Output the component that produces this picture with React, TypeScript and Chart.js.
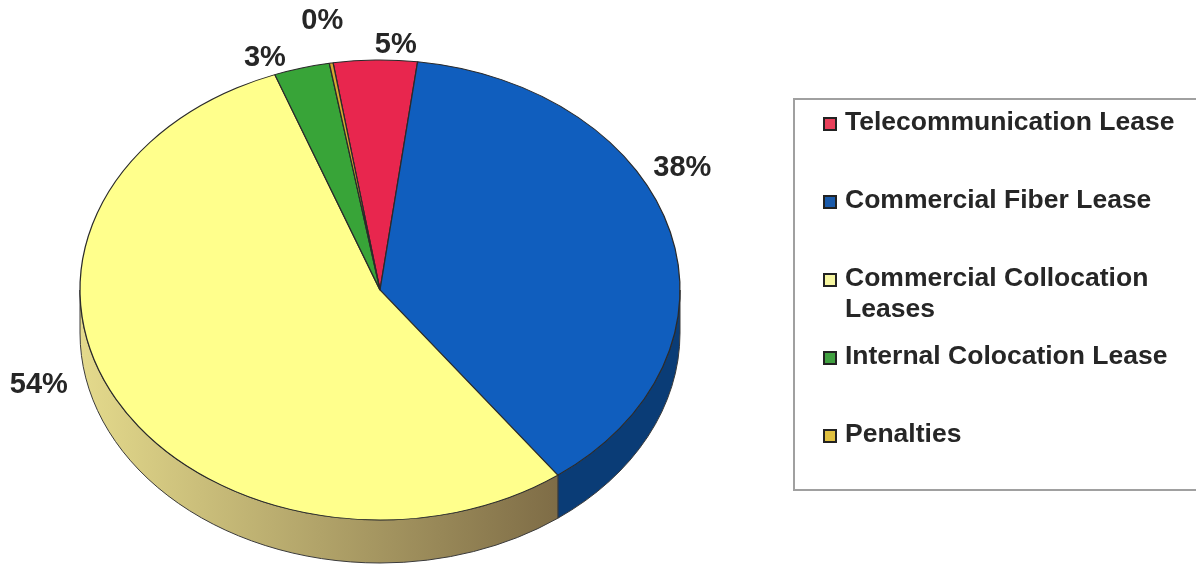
import React, { useEffect, useRef } from 'react';
import { Chart, registerables } from 'chart.js';

Chart.register(...registerables);

// ---- data ----
const categories = [
  'Telecommunication Lease',
  'Commercial Fiber Lease',
  'Commercial Collocation Leases',
  'Internal Colocation Lease',
  'Penalties',
];
const legendLines = [
  ['Telecommunication Lease'],
  ['Commercial Fiber Lease'],
  ['Commercial Collocation', 'Leases'],
  ['Internal Colocation Lease'],
  ['Penalties'],
];
const values = [4.5, 37.9, 54.4, 3.0, 0.2];
const percentLabels = ['5%', '38%', '54%', '3%', '0%'];

// ---- styles ----
const topColors = ['#E8264E', '#105EBE', '#FFFF8C', '#38A438', '#D8A830'];
const sideColors = [
  ['#A81C38', '#A81C38'],
  ['#1458A8', '#0A3C76'],
  ['#E4DA8C', '#7E6C46'],
  ['#287828', '#287828'],
  ['#A07820', '#A07820'],
];
const legendColors = ['#E8405A', '#1A5AAA', '#F6F6A0', '#40A040', '#E0C040'];
const labelNudge = [
  [21, 15],
  [-17, -57],
  [-51, -29],
  [-29, 19],
  [-4, -12],
];
const RX = 300;
const RY = 230;
const DEPTH = 43;

const threeD = {
  id: 'threeD',
  beforeDatasetsDraw(chart: any) {
    const ctx = chart.ctx;
    const meta = chart.getDatasetMeta(0);
    const first = meta.data[0];
    if (!first) return;
    const cx = first.x;
    const cy = first.y;
    const r = first.outerRadius;
    // side walls (front half only)
    meta.data.forEach((arc: any, i: number) => {
      const s = Math.max(arc.startAngle, 0);
      const e = Math.min(arc.endAngle, Math.PI);
      if (e <= s) return;
      const g = ctx.createLinearGradient(cx - RX, 0, cx + RX * 0.6, 0);
      g.addColorStop(0, sideColors[i][0]);
      g.addColorStop(1, sideColors[i][1]);
      ctx.save();
      ctx.beginPath();
      ctx.ellipse(cx, cy, RX, RY, 0, s, e, false);
      ctx.ellipse(cx, cy + DEPTH, RX, RY, 0, e, s, true);
      ctx.closePath();
      ctx.fillStyle = g;
      ctx.fill();
      ctx.strokeStyle = '#3a3a3a';
      ctx.lineWidth = 1;
      ctx.stroke();
      ctx.restore();
    });
    ctx.save();
    ctx.translate(cx, cy);
    ctx.scale(RX / r, RY / r);
    ctx.translate(-cx, -cy);
  },
  afterDatasetsDraw(chart: any) {
    const ctx = chart.ctx;
    ctx.restore();
    const meta = chart.getDatasetMeta(0);
    ctx.save();
    ctx.font = 'bold 29px "Liberation Sans", Arial, sans-serif';
    ctx.fillStyle = '#262626';
    ctx.textAlign = 'center';
    ctx.textBaseline = 'middle';
    meta.data.forEach((arc: any, i: number) => {
      const mid = (arc.startAngle + arc.endAngle) / 2;
      const px = arc.x + RX * Math.cos(mid) + 30 * Math.cos(mid);
      const py = arc.y + RY * Math.sin(mid) + 30 * Math.sin(mid);
      ctx.fillText(percentLabels[i], px + labelNudge[i][0], py + labelNudge[i][1]);
    });
    ctx.restore();
  },
  afterDraw(chart: any) {
    const ctx = chart.ctx;
    ctx.save();
    // legend box
    ctx.strokeStyle = '#a0a0a0';
    ctx.lineWidth = 2;
    ctx.strokeRect(794, 99, 430, 391);
    ctx.font = 'bold 26.5px "Liberation Sans", Arial, sans-serif';
    ctx.textBaseline = 'middle';
    ctx.textAlign = 'left';
    legendLines.forEach((lines, i) => {
      const y = 123 + i * 78;
      ctx.fillStyle = legendColors[i];
      ctx.fillRect(824, y - 5, 12, 12);
      ctx.strokeStyle = '#222';
      ctx.lineWidth = 2;
      ctx.strokeRect(824, y - 5, 12, 12);
      ctx.fillStyle = '#262626';
      lines.forEach((t, j) => ctx.fillText(t, 845, y + j * 31));
    });
    ctx.restore();
  },
};

export default function App() {
  const ref = useRef<HTMLCanvasElement>(null);
  useEffect(() => {
    document.body.style.margin = '0';
    const chart = new Chart(ref.current as HTMLCanvasElement, {
      type: 'pie',
      data: {
        labels: categories,
        datasets: [
          {
            data: values,
            backgroundColor: topColors,
            borderColor: '#2a2a2a',
            borderWidth: 1,
            clip: false as any,
          },
        ],
      },
      options: {
        responsive: false,
        animation: false,
        devicePixelRatio: 1,
        rotation: -9,
        layout: { padding: { left: 140, right: 576, top: 50, bottom: 39 } },
        plugins: {
          legend: { display: false },
          tooltip: { enabled: false },
        },
        events: [],
      },
      plugins: [threeD],
    });
    return () => chart.destroy();
  }, []);
  return (
    <div style={{ position: 'absolute', left: 0, top: 0, width: 1196, height: 569, background: '#fff' }}>
      <canvas ref={ref} width={1196} height={569} style={{ display: 'block' }} />
    </div>
  );
}
